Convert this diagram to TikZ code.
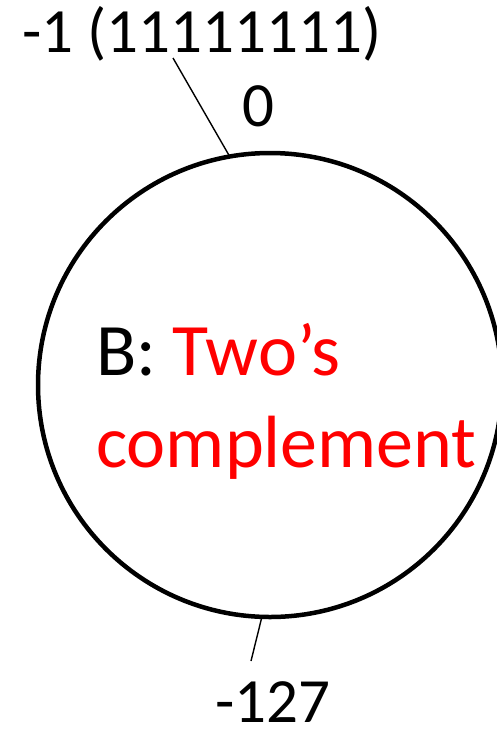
\documentclass[tikz,border=0pt]{standalone}
\usepackage{fontspec}
\setmainfont{Carlito}
\begin{document}
\begin{tikzpicture}[x=1pt,y=-1pt,
  ring/.style={circle,draw=black,line width=4.5pt,minimum size=464pt,inner sep=0pt,outer sep=0pt},
  outlbl/.style={inner sep=0pt,anchor=base,font=\fontsize{63}{75}\selectfont},
  inlbl/.style={inner sep=0pt,anchor=base west,font=\fontsize{74}{88}\selectfont},
  lead/.style={draw=black,line width=1.4pt}]
\useasboundingbox (0,0) rectangle (497,732);
\node[ring] (c) at (270,385) {};
\node[outlbl] (m1) at (202,52) {-1 (11111111)};
\node[outlbl] (z) at (258,126) {0};
\node[outlbl] (m127) at (273,722) {-127};
\node[inlbl] (b) at (96,375) {B: \textcolor{red}{Two’s}};
\node[inlbl,text=red] (cp) at (96,467) {complement};
\coordinate (tt) at (173,58);
\coordinate (bt) at (251,661);
\draw[lead] (c.100) -- (tt);
\draw[lead] (c.268) -- (bt);
\end{tikzpicture}
\end{document}
